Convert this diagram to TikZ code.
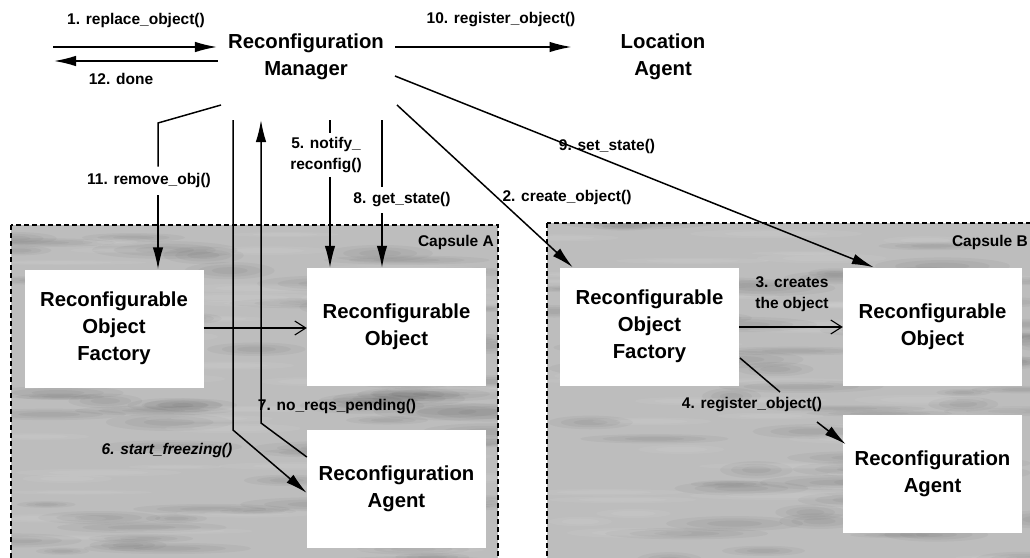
\documentclass[tikz,border=0pt]{standalone}
\usepackage{fontspec}
\setmainfont{Liberation Sans}
\usetikzlibrary{arrows.meta,calc}

\begin{document}
\begin{tikzpicture}[x=1pt,y=-1pt,
  title/.style={font=\fontsize{20.3}{27}\selectfont\bfseries, align=center, inner sep=0pt},
  lbl/.style={font=\fontsize{15.5}{21}\selectfont\bfseries, align=center, inner sep=1pt},
  box/.style={title, fill=white, minimum width=179pt, minimum height=118pt},
  capfill/.style={fill=black!26},
  capedge/.style={draw=black, line width=1.2pt, dash pattern=on 5pt off 3pt},
  plain/.style={line width=1.5pt},
  msg/.style={line width=1.5pt, -{Latex[length=22pt,width=10.5pt]}},
  make/.style={line width=1.4pt, -{Straight Barb[length=11pt,width=14pt,line width=1.1pt]}}
]
\useasboundingbox (0,0) rectangle (1030,557);

% the two capsules: grey streaky ground with a dashed outline
\pgfmathsetseed{4711}
\foreach \xa/\ya/\xb/\yb in {11/225/498/575, 547/223/1045/575} {
  \fill[capfill] (\xa,\ya) rectangle (\xb,\yb);
  \begin{scope}
    \clip (\xa,\ya) rectangle (\xb,\yb);
    \foreach \i in {1,...,70} {
      \pgfmathsetmacro\cx{\xa+(\xb-\xa)*rnd}
      \pgfmathsetmacro\cy{\ya+(\yb-\ya)*rnd}
      \pgfmathsetmacro\rx{25+60*rnd}
      \pgfmathsetmacro\ry{3+6*rnd}
      \foreach \s in {1,0.7,0.4}
        \fill[black, opacity=0.035] (\cx,\cy) ellipse [x radius=\s*\rx, y radius=\s*\ry];
    }
    \foreach \i in {1,...,50} {
      \pgfmathsetmacro\cx{\xa+(\xb-\xa)*rnd}
      \pgfmathsetmacro\cy{\ya+(\yb-\ya)*rnd}
      \pgfmathsetmacro\rx{30+60*rnd}
      \pgfmathsetmacro\ry{2+3*rnd}
      \foreach \s in {1,0.6}
        \fill[white, opacity=0.06] (\cx,\cy) ellipse [x radius=\s*\rx, y radius=\s*\ry];
    }
  \end{scope}
  \draw[capedge] (\xa,\ya) rectangle (\xb,\yb);
}
\node[lbl, anchor=east] (capA) at (495,242) {Capsule A};
\node[lbl, anchor=east] (capB) at (1029,242) {Capsule B};

% top level participants
\node[title] (rm) at (306,57) {Reconfiguration\\Manager};
\node[title] (la) at (663,57) {Location\\Agent};

% objects inside capsule A
\node[box] (fa) at (114,328.5) {Reconfigurable\\Object\\Factory};
\node[box] (oa) at (396.5,327) {Reconfigurable\\Object};
\node[box] (ra) at (396.5,488.5) {Reconfiguration\\Agent};

% objects inside capsule B
\node[box] (fb) at (649.5,326.5) {Reconfigurable\\Object\\Factory};
\node[box] (ob) at (932.5,326.5) {Reconfigurable\\Object};
\node[box] (rb) at (932.5,473.5) {Reconfiguration\\Agent};

% client requests
\coordinate (in1) at (53,47);
\coordinate (out12) at (54,61);
\draw[msg, shorten >=11pt] (in1) -- (in1 -| rm.west);
\draw[msg, shorten <=10pt] (out12 -| rm.west) -- (out12);
\node[lbl] (l1) at (136,20) {1. replace\_object()};
\node[lbl] (l12) at (121,79) {12. done};

% registration with the location agent
\coordinate (a10) at (395,47);
\draw[msg, shorten >=49pt] (a10) -- (a10 -| la.west);
\node[lbl] (l10) at (501,20) {10. register\_object()};

% 11. remove_obj()
\coordinate (m11) at (221,105);
\coordinate (k11) at (158,123);
\node[lbl] (l11) at (149,180) {11. remove\_obj()};
\draw[plain, shorten >=5pt] (m11) -- (k11) -- (k11 |- l11.north);
\draw[msg, shorten <=7pt] (k11 |- l11.south) -- (k11 |- fa.north);

% 5. notify_reconfig()
\coordinate (k5) at (330,120);
\node[lbl] (l5) at (326,155) {5. notify\_\\reconfig()};
\draw[plain] (k5) -- (330,133);
\draw[msg, shorten <=3pt] (k5 |- l5.south) -- (k5 |- oa.north);

% 8. get_state()
\coordinate (k8) at (382,120);
\node[lbl] (l8) at (402,200) {8. get\_state()};
\draw[plain, shorten >=5pt] (k8) -- (k8 |- l8.north);
\draw[msg, shorten <=5pt] (k8 |- l8.south) -- (k8 |- oa.north);

% 6. start_freezing()
\coordinate (k6) at (233,120);
\coordinate (b6) at (233,430);
\draw[msg] (k6) -- (b6) -- ([yshift=-4.5pt]ra.west);
\node[lbl, font=\fontsize{15.5}{21}\selectfont\bfseries\itshape] (l6) at (167,450) {6. start\_freezing()};

% 7. no_reqs_pending()
\coordinate (b7) at (261,423);
\coordinate (t7) at (261,120);
\draw[msg] ([yshift=31.5pt]ra.west) -- (b7) -- (t7);
\node[lbl] (l7) at (337,407) {7. no\_reqs\_pending()};

% factory to object inside capsule A
\coordinate (ya) at (250,328);
\draw[make] (fa.east |- ya) -- (oa.west |- ya);

% 2. create_object()
\coordinate (m2) at (397,105);
\draw[msg] (m2) -- ([xshift=13pt]fb.north west);
\node[lbl] (l2) at (567,197) {2. create\_object()};

% 9. set_state()
\coordinate (m9) at (395,76);
\draw[msg] (m9) -- ([xshift=31pt]ob.north west);
\node[lbl] (l9) at (607,146) {9. set\_state()};

% 3. creates the object
\coordinate (y3) at (790,327);
\draw[make] (fb.east |- y3) -- (ob.west |- y3);
\node[lbl] (l3) at (792,294) {3. creates\\the object};

% 4. register_object()
\coordinate (s4) at (740,358);
\coordinate (e4) at (780,392);
\coordinate (s4b) at (817,422);
\draw[plain] (s4) -- (e4);
\draw[msg] (s4b) -- ([shift={(3pt,-30pt)}]rb.north west);
\node[lbl] (l4) at (752,405) {4. register\_object()};

\end{tikzpicture}
\end{document}
